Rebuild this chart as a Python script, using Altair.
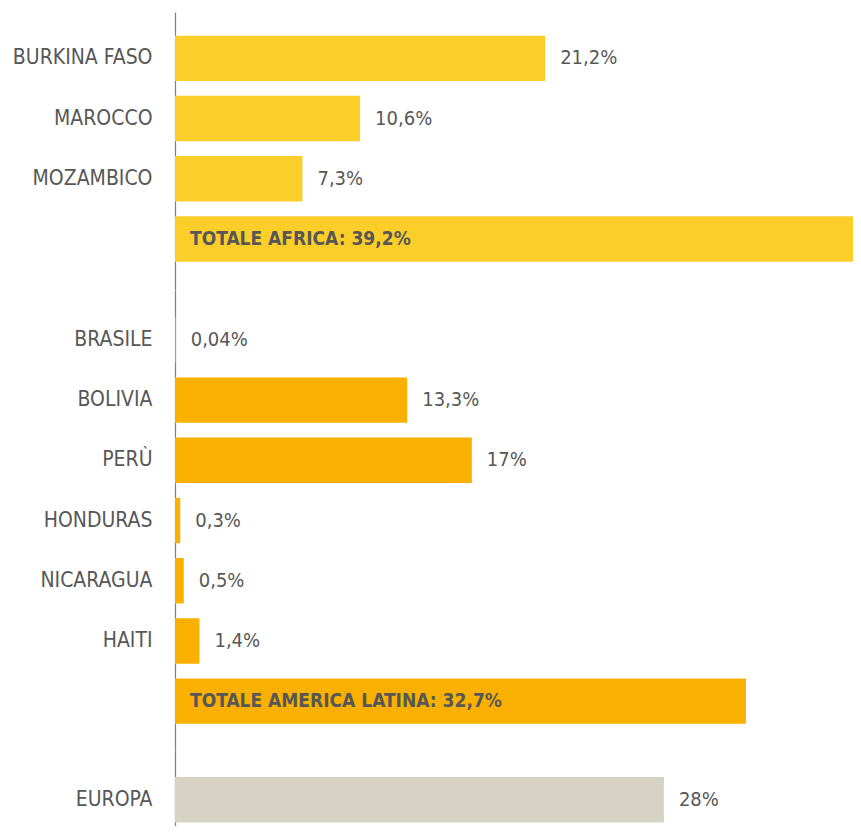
import altair as alt
import pandas as pd

# ---- data ----
africa_countries = ["BURKINA FASO", "MAROCCO", "MOZAMBICO", "TOTALE AFRICA"]
africa_values = [21.2, 10.6, 7.3, 39.2]
africa_labels = ["21,2%", "10,6%", "7,3%", "TOTALE AFRICA: 39,2%"]

latam_countries = ["BRASILE", "BOLIVIA", "PERÙ", "HONDURAS", "NICARAGUA", "HAITI", "TOTALE AMERICA LATINA"]
latam_values = [0.04, 13.3, 17, 0.3, 0.5, 1.4, 32.7]
latam_labels = ["0,04%", "13,3%", "17%", "0,3%", "0,5%", "1,4%", "TOTALE AMERICA LATINA: 32,7%"]

europe_countries = ["EUROPA"]
europe_values = [28]
europe_labels = ["28%"]

COLORS = {"africa": "#FBCE2A", "latam": "#F9B000", "europe": "#D6D3C4"}
FONT = "Liberation Sans Narrow, DejaVu Sans Condensed, Roboto"
TEXT_COLOR = "#575757"
FS_AXIS = 21
FS_VAL = 20
FS_TOT = 19
PLOT_W = 678
X_MAX = 38.83  # the Africa total bar runs off the right edge, as in the original


def make_df(countries, values, labels):
    df = pd.DataFrame({"country": countries, "value": values, "label": labels})
    df["is_total"] = df["country"].str.startswith("TOTALE")
    return df


def panel(df, color, height, po, align):
    order = list(df["country"])
    base = alt.Chart(df).encode(
        y=alt.Y(
            "country:N",
            sort=order,
            title=None,
            scale=alt.Scale(paddingInner=0.245, paddingOuter=po, align=align),
            axis=alt.Axis(
                ticks=False,
                domain=True,
                domainColor="#7f7f7f",
                domainWidth=1.2,
                labelFont=FONT,
                labelFontSize=FS_AXIS,
                labelColor=TEXT_COLOR,
                labelPadding=23,
                labelLimit=300,
                minExtent=167,
                maxExtent=167,
                labelExpr="indexof(datum.label, 'TOTALE') == 0 ? '' : datum.label",
            ),
        )
    )
    xscale = alt.Scale(domain=[0, X_MAX], nice=False)
    bars = base.mark_bar(color=color, clip=True).encode(
        x=alt.X("value:Q", scale=xscale, axis=None)
    )
    vals = base.transform_filter("!datum.is_total").mark_text(
        align="left", dx=15, font=FONT, fontSize=FS_VAL, color=TEXT_COLOR
    ).encode(x=alt.X("value:Q", scale=xscale, axis=None), text="label:N")
    tots = base.transform_filter("datum.is_total").transform_calculate(
        zero="0"
    ).mark_text(
        align="left", dx=15, font=FONT, fontSize=FS_TOT, fontWeight="bold", color=TEXT_COLOR
    ).encode(x=alt.X("zero:Q", scale=xscale, axis=None), text="label:N")
    return alt.layer(bars, vals, tots).properties(width=PLOT_W, height=height)


pa = panel(make_df(africa_countries, africa_values, africa_labels), COLORS["africa"], 277.5, 0.427, 0.46)
pb = panel(make_df(latam_countries, latam_values, latam_labels), COLORS["latam"], 460, 0.443, 0.51)
pc = panel(make_df(europe_countries, europe_values, europe_labels), COLORS["europe"], 75.5, 0.25, 0.9)

chart = alt.vconcat(pa, pb, pc, spacing=0).configure_view(stroke=None).properties(
    padding={"left": 0, "top": 4, "right": 0, "bottom": 0}
)

chart.save("out.html", embed_options={"renderer": "svg", "actions": False})
